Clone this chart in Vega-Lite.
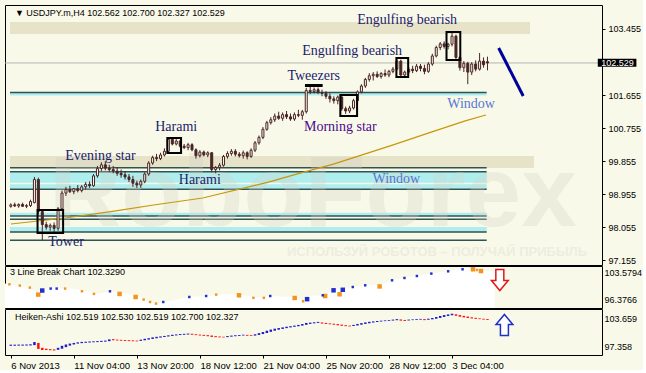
{
"$schema":"https://vega.github.io/schema/vega-lite/v6.json",
"background":"#f9f9e9",
"padding":{"left":4,"top":4,"right":0,"bottom":0},
"spacing":1,
"bounds":"flush",
"config":{"font":"Liberation Sans","view":{"stroke":"#000000","strokeWidth":1,"fill":"#f9f9e9"},"axis":{"labelFont":"Liberation Sans","labelFontSize":9,"labelColor":"#000000","tickColor":"#000000","domain":false,"grid":false}},
"resolve":{"scale":{"x":"independent","y":"independent"}},
"datasets":{
"candles":[
{"i":0,"o":98.62,"h":98.70,"l":98.58,"c":98.66},{"i":1,"o":98.66,"h":98.72,"l":98.60,"c":98.63},{"i":2,"o":98.63,"h":98.70,"l":98.58,"c":98.67},{"i":3,"o":98.67,"h":98.72,"l":98.60,"c":98.62},{"i":4,"o":98.62,"h":98.68,"l":98.57,"c":98.64},{"i":5,"o":98.64,"h":98.80,"l":98.60,"c":98.75},{"i":6,"o":98.72,"h":99.42,"l":98.70,"c":99.35},{"i":7,"o":99.35,"h":99.40,"l":98.40,"c":98.48},{"i":8,"o":98.48,"h":98.52,"l":97.70,"c":98.12},{"i":9,"o":98.12,"h":98.20,"l":97.98,"c":98.05},
{"i":10,"o":98.05,"h":98.15,"l":97.95,"c":98.10},{"i":11,"o":98.10,"h":98.18,"l":97.90,"c":98.02},{"i":12,"o":98.02,"h":98.60,"l":97.95,"c":98.55},{"i":13,"o":98.55,"h":99.05,"l":98.50,"c":98.98},{"i":14,"o":98.98,"h":99.15,"l":98.90,"c":99.08},{"i":15,"o":99.08,"h":99.18,"l":98.98,"c":99.02},{"i":16,"o":99.02,"h":99.12,"l":98.95,"c":99.10},{"i":17,"o":99.10,"h":99.20,"l":99.00,"c":99.05},{"i":18,"o":99.05,"h":99.20,"l":99.00,"c":99.15},{"i":19,"o":99.15,"h":99.28,"l":99.08,"c":99.22},
{"i":20,"o":99.22,"h":99.30,"l":99.12,"c":99.18},{"i":21,"o":99.18,"h":99.50,"l":99.15,"c":99.45},{"i":22,"o":99.45,"h":99.72,"l":99.40,"c":99.65},{"i":23,"o":99.65,"h":99.82,"l":99.58,"c":99.75},{"i":24,"o":99.75,"h":99.85,"l":99.60,"c":99.66},{"i":25,"o":99.66,"h":99.75,"l":99.55,"c":99.62},{"i":26,"o":99.62,"h":99.72,"l":99.52,"c":99.58},{"i":27,"o":99.58,"h":99.68,"l":99.45,"c":99.52},{"i":28,"o":99.52,"h":99.62,"l":99.40,"c":99.48},{"i":29,"o":99.48,"h":99.58,"l":99.35,"c":99.42},
{"i":30,"o":99.42,"h":99.50,"l":99.28,"c":99.35},{"i":31,"o":99.35,"h":99.45,"l":99.15,"c":99.25},{"i":32,"o":99.25,"h":99.32,"l":99.12,"c":99.20},{"i":33,"o":99.20,"h":99.35,"l":99.12,"c":99.30},{"i":34,"o":99.30,"h":99.55,"l":99.25,"c":99.50},{"i":35,"o":99.50,"h":99.85,"l":99.45,"c":99.80},{"i":36,"o":99.80,"h":100.00,"l":99.75,"c":99.95},{"i":37,"o":99.95,"h":100.05,"l":99.85,"c":99.92},{"i":38,"o":99.92,"h":100.08,"l":99.88,"c":100.02},{"i":39,"o":100.02,"h":100.20,"l":99.98,"c":100.12},
{"i":40,"o":100.12,"h":100.50,"l":100.10,"c":100.45},{"i":41,"o":100.45,"h":100.50,"l":100.28,"c":100.32},{"i":42,"o":100.32,"h":100.45,"l":100.28,"c":100.40},{"i":43,"o":100.40,"h":100.42,"l":100.22,"c":100.26},{"i":44,"o":100.26,"h":100.32,"l":100.18,"c":100.22},{"i":45,"o":100.22,"h":100.35,"l":100.15,"c":100.30},{"i":46,"o":100.30,"h":100.34,"l":100.12,"c":100.16},{"i":47,"o":100.16,"h":100.20,"l":99.92,"c":100.00},{"i":48,"o":100.00,"h":100.15,"l":99.95,"c":100.10},{"i":49,"o":100.10,"h":100.14,"l":99.98,"c":100.02},
{"i":50,"o":100.02,"h":100.12,"l":99.96,"c":100.08},{"i":51,"o":100.08,"h":100.10,"l":99.55,"c":99.62},{"i":52,"o":99.62,"h":99.72,"l":99.52,"c":99.68},{"i":53,"o":99.68,"h":99.80,"l":99.60,"c":99.74},{"i":54,"o":99.74,"h":100.02,"l":99.70,"c":99.98},{"i":55,"o":99.98,"h":100.12,"l":99.92,"c":100.06},{"i":56,"o":100.06,"h":100.18,"l":100.00,"c":100.12},{"i":57,"o":100.12,"h":100.18,"l":99.98,"c":100.04},{"i":58,"o":100.04,"h":100.10,"l":99.95,"c":100.00},{"i":59,"o":100.00,"h":100.14,"l":99.92,"c":100.08},
{"i":60,"o":100.08,"h":100.12,"l":99.90,"c":99.98},{"i":61,"o":99.98,"h":100.20,"l":99.94,"c":100.15},{"i":62,"o":100.15,"h":100.40,"l":100.10,"c":100.35},{"i":63,"o":100.35,"h":100.55,"l":100.30,"c":100.50},{"i":64,"o":100.50,"h":100.78,"l":100.45,"c":100.72},{"i":65,"o":100.72,"h":100.95,"l":100.68,"c":100.90},{"i":66,"o":100.90,"h":101.05,"l":100.85,"c":100.98},{"i":67,"o":100.98,"h":101.15,"l":100.92,"c":101.08},{"i":68,"o":101.08,"h":101.20,"l":100.98,"c":101.02},{"i":69,"o":101.02,"h":101.18,"l":100.95,"c":101.12},
{"i":70,"o":101.12,"h":101.22,"l":101.00,"c":101.06},{"i":71,"o":101.06,"h":101.15,"l":100.95,"c":101.00},{"i":72,"o":101.00,"h":101.18,"l":100.95,"c":101.12},{"i":73,"o":101.12,"h":101.25,"l":101.05,"c":101.10},{"i":74,"o":101.10,"h":101.25,"l":100.98,"c":101.20},{"i":75,"o":101.20,"h":101.85,"l":101.15,"c":101.78},{"i":76,"o":101.78,"h":101.88,"l":101.68,"c":101.75},{"i":77,"o":101.75,"h":101.86,"l":101.70,"c":101.80},{"i":78,"o":101.80,"h":101.86,"l":101.68,"c":101.72},{"i":79,"o":101.72,"h":101.80,"l":101.62,"c":101.70},
{"i":80,"o":101.70,"h":101.76,"l":101.55,"c":101.62},{"i":81,"o":101.62,"h":101.70,"l":101.45,"c":101.55},{"i":82,"o":101.55,"h":101.62,"l":101.42,"c":101.50},{"i":83,"o":101.50,"h":101.64,"l":101.40,"c":101.60},{"i":84,"o":101.60,"h":101.64,"l":101.22,"c":101.28},{"i":85,"o":101.28,"h":101.34,"l":101.14,"c":101.22},{"i":86,"o":101.22,"h":101.36,"l":101.16,"c":101.30},{"i":87,"o":101.30,"h":101.55,"l":101.26,"c":101.50},{"i":88,"o":101.50,"h":101.78,"l":101.45,"c":101.74},{"i":89,"o":101.74,"h":101.95,"l":101.70,"c":101.90},
{"i":90,"o":101.90,"h":102.12,"l":101.85,"c":102.08},{"i":91,"o":102.08,"h":102.25,"l":102.02,"c":102.18},{"i":92,"o":102.18,"h":102.28,"l":102.05,"c":102.22},{"i":93,"o":102.22,"h":102.30,"l":102.12,"c":102.16},{"i":94,"o":102.16,"h":102.28,"l":102.10,"c":102.24},{"i":95,"o":102.24,"h":102.35,"l":102.15,"c":102.20},{"i":96,"o":102.20,"h":102.34,"l":102.14,"c":102.30},{"i":97,"o":102.30,"h":102.42,"l":102.25,"c":102.36},{"i":98,"o":102.36,"h":102.64,"l":102.32,"c":102.58},{"i":99,"o":102.58,"h":102.62,"l":102.15,"c":102.20},
{"i":100,"o":102.20,"h":102.32,"l":102.12,"c":102.28},{"i":101,"o":102.28,"h":102.42,"l":102.22,"c":102.36},{"i":102,"o":102.36,"h":102.45,"l":102.25,"c":102.32},{"i":103,"o":102.32,"h":102.50,"l":102.28,"c":102.44},{"i":104,"o":102.44,"h":102.50,"l":102.30,"c":102.38},{"i":105,"o":102.38,"h":102.48,"l":102.22,"c":102.30},{"i":106,"o":102.30,"h":102.55,"l":102.26,"c":102.50},{"i":107,"o":102.50,"h":102.78,"l":102.45,"c":102.72},{"i":108,"o":102.72,"h":103.00,"l":102.68,"c":102.95},{"i":109,"o":102.95,"h":103.10,"l":102.88,"c":103.05},
{"i":110,"o":103.05,"h":103.12,"l":102.92,"c":102.98},{"i":111,"o":102.98,"h":103.08,"l":102.90,"c":103.04},{"i":112,"o":103.04,"h":103.38,"l":102.98,"c":103.26},{"i":113,"o":103.26,"h":103.30,"l":102.62,"c":102.68},{"i":114,"o":102.68,"h":102.72,"l":102.32,"c":102.40},{"i":115,"o":102.40,"h":102.58,"l":102.28,"c":102.52},{"i":116,"o":102.52,"h":102.56,"l":101.95,"c":102.28},{"i":117,"o":102.28,"h":102.55,"l":102.20,"c":102.50},{"i":118,"o":102.50,"h":102.60,"l":102.30,"c":102.36},{"i":119,"o":102.36,"h":102.80,"l":102.32,"c":102.58},
{"i":120,"o":102.58,"h":102.68,"l":102.40,"c":102.48},{"i":121,"o":102.562,"h":102.700,"l":102.327,"c":102.529}
],
"ma":[{"i":0.05,"v":98.137},{"i":13.78,"v":98.30},{"i":26.25,"v":98.49},{"i":36.24,"v":98.655},{"i":48.7,"v":98.846},{"i":65.4,"v":99.28},{"i":73.67,"v":99.53},{"i":81.9,"v":99.77},{"i":96.88,"v":100.29},{"i":106.9,"v":100.65},{"i":115.35,"v":100.95},{"i":120.6,"v":101.11}],
"zones":[
{"i":-0.2,"i2":131.8,"v":103.646,"v2":103.319,"kind":"shade"},
{"i":-0.2,"i2":132.8,"v":99.991,"v2":99.664,"kind":"shade"},
{"i":-0.2,"i2":120.8,"v":101.71,"v2":101.641,"kind":"gap"},
{"i":-0.2,"i2":120.8,"v":99.563,"v2":99.263,"kind":"gap"},
{"i":-0.2,"i2":120.8,"v":99.219,"v2":99.100,"kind":"gap"},
{"i":-0.2,"i2":120.8,"v":98.445,"v2":98.355,"kind":"gap"},
{"i":-0.2,"i2":120.8,"v":98.055,"v2":97.919,"kind":"gap"}
],
"levels":[{"v":101.723},{"v":99.672},{"v":99.563},{"v":99.083},{"v":98.355},{"v":98.265},{"v":97.919},{"v":97.692}],
"boxes":[
{"i":6.79,"i2":13.28,"v":98.519,"v2":97.891,"pattern":"Tower"},
{"i":39.73,"i2":43.22,"v":100.482,"v2":100.073,"pattern":"Harami"},
{"i":83.65,"i2":87.9,"v":101.655,"v2":101.082,"pattern":"Morning star"},
{"i":97.88,"i2":100.87,"v":102.664,"v2":102.146,"pattern":"Engulfing bearish"},
{"i":110.6,"i2":114.1,"v":103.373,"v2":102.61,"pattern":"Engulfing bearish"},
{"i":74.67,"i2":79.16,"v":101.955,"v2":101.873,"pattern":"Tweezers"}
],
"notes":[
{"i":100.6,"v":103.70,"text":"Engulfing bearish","kind":"p"},
{"i":86.65,"v":102.855,"text":"Engulfing bearish","kind":"p"},
{"i":76.9,"v":102.173,"text":"Tweezers","kind":"p"},
{"i":83.65,"v":100.782,"text":"Morning star","kind":"m"},
{"i":116.85,"v":101.41,"text":"Window","kind":"w"},
{"i":41.98,"v":100.782,"text":"Harami","kind":"p"},
{"i":22.76,"v":99.991,"text":"Evening star","kind":"p"},
{"i":47.97,"v":99.337,"text":"Harami","kind":"p"},
{"i":97.88,"v":99.364,"text":"Window","kind":"w"},
{"i":14.03,"v":97.646,"text":"Tower","kind":"p"}
],
"trend":[{"i":123.84,"v":102.937},{"i":130.07,"v":101.628}],
"bid":[{"v":102.529}],
"labels":[
{"text":"RoboForex","kind":"wm","i":76.7,"v":98.90},
{"text":"ИСПОЛЬЗУЙ РОБОТОВ – ПОЛУЧАЙ ПРИБЫЛЬ","kind":"slogan","i":108.2,"v":97.373},
{"text":"▼ USDJPY.m,H4  102.562 102.700 102.327 102.529","kind":"title","i":1.05,"v":103.878},
{"text":"3 Line Break Chart 102.3290","kind":"lb","i":1.05,"v":103.85},
{"text":"Heiken-Ashi 102.519 102.530 102.519 102.700 102.327","kind":"ha","i":1.05,"v":103.88}
],
"lb":[{"i":-0.2,"v":100.75},{"i":5,"v":99.84},{"i":7.9,"v":98.35},{"i":9.1,"v":99.42},{"i":16.4,"v":99.42},{"i":23.1,"v":98.0},{"i":26.2,"v":98.70},{"i":28.8,"v":98.3},{"i":32.9,"v":97.44},{"i":35.5,"v":95.84},{"i":38.6,"v":95.42},{"i":39.6,"v":95.84},{"i":45.8,"v":97.18},{"i":50,"v":97.44},{"i":54.1,"v":97.9},{"i":58.2,"v":97.82},{"i":62.8,"v":96.95},{"i":66,"v":97.44},{"i":71.6,"v":97.1},{"i":74.2,"v":96.03},{"i":75.8,"v":97.5},{"i":79.4,"v":97.63},{"i":82,"v":99.2},{"i":84.5,"v":99.42},{"i":87.1,"v":99.84},{"i":90.2,"v":100.30},{"i":93.3,"v":100.30},{"i":96.4,"v":101.63},{"i":99.5,"v":102.25},{"i":102.6,"v":102.78},{"i":106.2,"v":103.42},{"i":110.4,"v":104.03},{"i":114,"v":104.75},{"i":116.6,"v":104.75},{"i":119.1,"v":104.2},{"i":122,"v":104.2}],
"lbm":[
{"i":0.9,"v":100.56,"dir":"down","kind":"dash"},{"i":3.5,"v":100.22,"dir":"down","kind":"dash"},{"i":6.0,"v":99.68,"dir":"down","kind":"dash"},{"i":8.1,"v":97.82,"dir":"down","kind":"box"},{"i":9.1,"v":98.9,"dir":"up","kind":"box"},{"i":11.2,"v":99.42,"dir":"up","kind":"dash"},{"i":12.7,"v":99.42,"dir":"up","kind":"dash"},{"i":14.8,"v":99.42,"dir":"down","kind":"dash"},{"i":19.0,"v":98.70,"dir":"down","kind":"dash"},{"i":22.0,"v":98.0,"dir":"down","kind":"dash"},
{"i":26.0,"v":98.70,"dir":"up","kind":"dash"},{"i":28.4,"v":98.0,"dir":"down","kind":"box"},{"i":32.4,"v":97.18,"dir":"down","kind":"box"},{"i":34.4,"v":96.48,"dir":"down","kind":"dash"},{"i":36.0,"v":95.84,"dir":"down","kind":"dash"},{"i":37.5,"v":95.42,"dir":"down","kind":"dash"},{"i":39.3,"v":95.84,"dir":"up","kind":"dash"},{"i":45.8,"v":97.18,"dir":"up","kind":"dash"},{"i":50.0,"v":97.44,"dir":"up","kind":"dash"},{"i":52.5,"v":97.82,"dir":"down","kind":"dash"},
{"i":58.2,"v":97.63,"dir":"down","kind":"box"},{"i":61.8,"v":96.95,"dir":"down","kind":"dash"},{"i":64.4,"v":96.95,"dir":"down","kind":"dash"},{"i":66.0,"v":97.44,"dir":"up","kind":"dash"},{"i":72.1,"v":96.91,"dir":"down","kind":"box"},{"i":74.2,"v":96.03,"dir":"down","kind":"dash"},{"i":75.2,"v":96.6,"dir":"up","kind":"box"},{"i":79.1,"v":97.63,"dir":"up","kind":"dash"},{"i":79.7,"v":97.44,"dir":"down","kind":"box"},{"i":81.8,"v":98.96,"dir":"up","kind":"box"},
{"i":83.3,"v":97.9,"dir":"down","kind":"box"},{"i":84.1,"v":99.1,"dir":"up","kind":"box"},{"i":86.6,"v":99.84,"dir":"up","kind":"dash"},{"i":89.7,"v":100.30,"dir":"up","kind":"dash"},{"i":93.3,"v":100.0,"dir":"down","kind":"box"},{"i":96.4,"v":101.63,"dir":"up","kind":"dash"},{"i":99.5,"v":102.25,"dir":"up","kind":"dash"},{"i":102.6,"v":102.78,"dir":"up","kind":"dash"},{"i":106.2,"v":103.42,"dir":"up","kind":"dash"},{"i":110.4,"v":104.03,"dir":"up","kind":"dash"},
{"i":114.0,"v":104.57,"dir":"up","kind":"dash"},{"i":116.6,"v":104.57,"dir":"down","kind":"box"},{"i":117.6,"v":104.38,"dir":"down","kind":"dash"},{"i":118.6,"v":104.1,"dir":"down","kind":"box"}
],
"signals":[{"i":123.3,"v":101.7,"dir":"down","panel":"lb"},{"i":125.3,"v":102.08,"dir":"up","panel":"ha"}],
"ha":[
{"i":0,"o":97.40,"c":97.66},{"i":1,"o":97.42,"c":97.66},{"i":2,"o":97.44,"c":97.68},{"i":3,"o":97.44,"c":97.68},{"i":4,"o":97.46,"c":97.70},{"i":5,"o":97.48,"c":97.74},{"i":6,"o":97.55,"c":98.25},{"i":7,"o":98.05,"c":96.70},{"i":8,"o":96.95,"c":96.45},{"i":9,"o":96.75,"c":96.45},
{"i":10,"o":96.65,"c":96.40},{"i":11,"o":96.60,"c":96.35},{"i":12,"o":96.50,"c":96.95},{"i":13,"o":96.75,"c":97.40},{"i":14,"o":97.10,"c":97.70},{"i":15,"o":97.45,"c":97.90},{"i":16,"o":97.70,"c":98.05},{"i":17,"o":97.90,"c":98.18},{"i":18,"o":98.00,"c":98.28},{"i":19,"o":98.08,"c":98.32},
{"i":20,"o":98.14,"c":98.38},{"i":21,"o":98.20,"c":98.42},{"i":22,"o":98.24,"c":98.46},{"i":23,"o":98.28,"c":98.52},{"i":24,"o":98.34,"c":98.58},{"i":25,"o":98.45,"c":98.85},{"i":26,"o":98.90,"c":98.65},{"i":27,"o":98.80,"c":98.60},{"i":28,"o":98.75,"c":98.55},{"i":29,"o":98.70,"c":98.50},
{"i":30,"o":98.66,"c":98.46},{"i":31,"o":98.62,"c":98.42},{"i":32,"o":98.58,"c":98.40},{"i":33,"o":98.52,"c":98.78},{"i":34,"o":98.65,"c":98.98},{"i":35,"o":98.80,"c":99.12},{"i":36,"o":98.95,"c":99.30},{"i":37,"o":99.10,"c":99.42},{"i":38,"o":99.25,"c":99.52},{"i":39,"o":99.38,"c":99.62},
{"i":40,"o":99.50,"c":99.76},{"i":41,"o":99.62,"c":99.88},{"i":42,"o":99.74,"c":99.96},{"i":43,"o":99.82,"c":100.04},{"i":44,"o":99.88,"c":100.10},{"i":45,"o":99.94,"c":100.16},{"i":46,"o":100.12,"c":99.90},{"i":47,"o":100.00,"c":99.80},{"i":48,"o":99.92,"c":99.72},{"i":49,"o":99.86,"c":99.64},
{"i":50,"o":99.80,"c":99.56},{"i":51,"o":99.72,"c":99.40},{"i":52,"o":99.58,"c":99.34},{"i":53,"o":99.50,"c":99.30},{"i":54,"o":99.44,"c":99.28},{"i":55,"o":99.36,"c":99.60},{"i":56,"o":99.46,"c":99.70},{"i":57,"o":99.56,"c":99.78},{"i":58,"o":99.64,"c":99.84},{"i":59,"o":99.72,"c":99.90},
{"i":60,"o":99.86,"c":99.66},{"i":61,"o":99.80,"c":99.62},{"i":62,"o":99.70,"c":100.00},{"i":63,"o":99.85,"c":100.25},{"i":64,"o":100.05,"c":100.50},{"i":65,"o":100.28,"c":100.80},{"i":66,"o":100.55,"c":101.05},{"i":67,"o":100.80,"c":101.25},{"i":68,"o":101.02,"c":101.40},{"i":69,"o":101.20,"c":101.55},
{"i":70,"o":101.38,"c":101.70},{"i":71,"o":101.54,"c":101.82},{"i":72,"o":101.68,"c":101.95},{"i":73,"o":101.80,"c":102.10},{"i":74,"o":101.95,"c":102.30},{"i":75,"o":102.12,"c":102.55},{"i":76,"o":102.33,"c":102.62},{"i":77,"o":102.46,"c":102.70},{"i":78,"o":102.56,"c":102.78},{"i":79,"o":102.66,"c":102.40},
{"i":80,"o":102.55,"c":102.32},{"i":81,"o":102.45,"c":102.25},{"i":82,"o":102.38,"c":102.14},{"i":83,"o":102.29,"c":102.02},{"i":84,"o":102.17,"c":101.90},{"i":85,"o":102.04,"c":101.82},{"i":86,"o":101.95,"c":101.76},{"i":87,"o":101.86,"c":102.10},{"i":88,"o":101.98,"c":102.32},{"i":89,"o":102.15,"c":102.50},
{"i":90,"o":102.32,"c":102.66},{"i":91,"o":102.48,"c":102.80},{"i":92,"o":102.64,"c":102.90},{"i":93,"o":102.76,"c":102.98},{"i":94,"o":102.86,"c":103.06},{"i":95,"o":102.95,"c":103.12},{"i":96,"o":103.02,"c":103.20},{"i":97,"o":103.08,"c":103.30},{"i":98,"o":103.16,"c":103.40},{"i":99,"o":103.34,"c":103.06},
{"i":100,"o":103.22,"c":103.00},{"i":101,"o":103.10,"c":103.30},{"i":102,"o":103.18,"c":103.34},{"i":103,"o":103.22,"c":103.40},{"i":104,"o":103.28,"c":103.46},{"i":105,"o":103.42,"c":103.18},{"i":106,"o":103.26,"c":103.50},{"i":107,"o":103.36,"c":103.66},{"i":108,"o":103.50,"c":103.88},{"i":109,"o":103.68,"c":104.12},
{"i":110,"o":103.90,"c":104.32},{"i":111,"o":104.10,"c":104.46},{"i":112,"o":104.28,"c":104.62},{"i":113,"o":104.50,"c":104.15},{"i":114,"o":104.32,"c":103.95},{"i":115,"o":104.14,"c":103.80},{"i":116,"o":103.98,"c":103.66},{"i":117,"o":103.82,"c":103.56},{"i":118,"o":103.70,"c":103.46},{"i":119,"o":103.58,"c":103.40},
{"i":120,"o":103.50,"c":103.30},{"i":121,"o":103.42,"c":103.22}
]
},
"vconcat":[
{
"width":597,"height":260,
"layer":[
{"data":{"name":"zones"},"transform":[{"filter":"datum.kind=='shade'"}],"mark":{"type":"rect","color":"#e6e3c9","clip":true},
 "encoding":{"x":{"field":"i","type":"quantitative","scale":{"domain":[-0.2,148.8],"nice":false,"zero":false},"axis":null,"title":null},"x2":{"field":"i2"},
 "y":{"field":"v","type":"quantitative","scale":{"domain":[97.019,104.1095],"nice":false,"zero":false},"axis":{"orient":"right","values":[97.155,98.055,98.955,99.855,100.755,101.655,103.455],"format":".3f","tickSize":3,"labelPadding":3},"title":null},"y2":{"field":"v2"}}},
{"data":{"name":"zones"},"transform":[{"filter":"datum.kind=='gap'"}],"mark":{"type":"rect","color":"#afeeee","clip":true},
 "encoding":{"x":{"field":"i","type":"quantitative","axis":null,"title":null},"x2":{"field":"i2"},"y":{"field":"v","type":"quantitative","title":null},"y2":{"field":"v2"}}},
{"data":{"name":"levels"},"mark":{"type":"rule","color":"#2f5252","strokeWidth":1.5,"clip":true},
 "encoding":{"x":{"datum":-0.2,"type":"quantitative","axis":null,"title":null},"x2":{"datum":120.8},"y":{"field":"v","type":"quantitative","title":null}}},
{"data":{"name":"bid"},"mark":{"type":"rule","color":"#b4b4b4","strokeWidth":1,"clip":true},
 "encoding":{"y":{"field":"v","type":"quantitative","title":null}}},
{"data":{"name":"labels"},"transform":[{"filter":"datum.kind=='wm' || datum.kind=='slogan'"}],"mark":{"type":"text","font":"Liberation Sans","fontWeight":"bold","align":"center","baseline":"middle","color":"#d2d2c8","opacity":0.3,"clip":true},
 "encoding":{"x":{"field":"i","type":"quantitative","axis":null,"title":null},"y":{"field":"v","type":"quantitative","title":null},"text":{"field":"text"},
 "size":{"condition":{"test":"datum.kind=='wm'","value":100},"value":13}}},
{"data":{"name":"ma"},"mark":{"type":"line","color":"#c8960a","strokeWidth":1.2,"clip":true},
 "encoding":{"x":{"field":"i","type":"quantitative","axis":null,"title":null},"y":{"field":"v","type":"quantitative","title":null}}},
{"data":{"name":"candles"},"mark":{"type":"rule","color":"#4a2626","strokeWidth":1,"clip":true},
 "encoding":{"x":{"field":"i","type":"quantitative","axis":null,"title":null},"y":{"field":"l","type":"quantitative","title":null},"y2":{"field":"h"}}},
{"data":{"name":"candles"},"mark":{"type":"bar","size":2,"stroke":"#4a2626","strokeWidth":1,"clip":true},
 "encoding":{"x":{"field":"i","type":"quantitative","axis":null,"title":null},"y":{"field":"o","type":"quantitative","title":null},"y2":{"field":"c"},
 "fill":{"condition":{"test":"datum.c >= datum.o","value":"#f9f9e9"},"value":"#4a2626"}}},
{"data":{"name":"boxes"},"transform":[{"filter":"datum.pattern!='Tweezers'"}],"mark":{"type":"rect","fill":"transparent","stroke":"#000000","strokeWidth":2,"clip":true},
 "encoding":{"x":{"field":"i","type":"quantitative","axis":null,"title":null},"x2":{"field":"i2"},"y":{"field":"v","type":"quantitative","title":null},"y2":{"field":"v2"}}},
{"data":{"name":"boxes"},"transform":[{"filter":"datum.pattern=='Tweezers'"}],"mark":{"type":"rect","color":"#000000","clip":true},
 "encoding":{"x":{"field":"i","type":"quantitative","axis":null,"title":null},"x2":{"field":"i2"},"y":{"field":"v","type":"quantitative","title":null},"y2":{"field":"v2"}}},
{"data":{"name":"notes"},"mark":{"type":"text","font":"Liberation Serif","fontSize":14,"align":"center","baseline":"middle"},
 "encoding":{"x":{"field":"i","type":"quantitative","axis":null,"title":null},"y":{"field":"v","type":"quantitative","title":null},"text":{"field":"text"},
 "color":{"condition":[{"test":"datum.kind=='m'","value":"#4b0a8c"},{"test":"datum.kind=='w'","value":"#5578d2"}],"value":"#1c1c6b"}}},
{"data":{"name":"trend"},"mark":{"type":"line","color":"#00009c","strokeWidth":3,"clip":false},
 "encoding":{"x":{"field":"i","type":"quantitative","axis":null,"title":null},"y":{"field":"v","type":"quantitative","title":null}}},
{"data":{"name":"labels"},"transform":[{"filter":"datum.kind=='title'"}],"mark":{"type":"text","font":"Liberation Sans","fontSize":9,"align":"left","baseline":"middle","color":"#000000"},
 "encoding":{"x":{"field":"i","type":"quantitative","axis":null,"title":null},"y":{"field":"v","type":"quantitative","title":null},"text":{"field":"text"}}},
{"data":{"name":"bid"},"mark":{"type":"rect","color":"#000000","clip":false},
 "encoding":{"x":{"datum":149.0,"type":"quantitative","axis":null,"title":null},"x2":{"datum":158.8},"y":{"datum":102.645,"type":"quantitative","title":null},"y2":{"datum":102.427}}},
{"data":{"name":"bid"},"mark":{"type":"text","font":"Liberation Sans","fontSize":9,"align":"left","baseline":"middle","color":"#ffffff","clip":false},
 "encoding":{"x":{"datum":149.9,"type":"quantitative","axis":null,"title":null},"y":{"field":"v","type":"quantitative","title":null},"text":{"field":"v","type":"quantitative","format":".3f"}}}
]
},
{
"width":597,"height":42,
"layer":[
{"data":{"name":"lb"},"mark":{"type":"area","color":"#ffffff","clip":true},
 "encoding":{"x":{"field":"i","type":"quantitative","scale":{"domain":[-0.2,148.8],"nice":false,"zero":false},"axis":null,"title":null},
 "y":{"field":"v","type":"quantitative","scale":{"domain":[94.241,105.447],"nice":false,"zero":false},"axis":{"orient":"right","values":[96.3766,103.5794],"format":".4f","tickSize":0,"labelPadding":2},"title":null},"y2":{"datum":94.241}}},
{"data":{"name":"lbm"},"transform":[{"filter":"datum.kind=='box'"}],"mark":{"type":"point","shape":"square","filled":true,"size":20,"opacity":1,"clip":true},
 "encoding":{"x":{"field":"i","type":"quantitative","axis":null,"title":null},"y":{"field":"v","type":"quantitative","title":null},
 "color":{"condition":{"test":"datum.dir=='up'","value":"#2030d0"},"value":"#f0961e"}}},
{"data":{"name":"lbm"},"transform":[{"filter":"datum.kind=='dash'"}],"mark":{"type":"point","shape":"square","filled":true,"size":6,"opacity":1,"clip":true},
 "encoding":{"x":{"field":"i","type":"quantitative","axis":null,"title":null},"y":{"field":"v","type":"quantitative","title":null},
 "color":{"condition":{"test":"datum.dir=='up'","value":"#2030d0"},"value":"#f0961e"}}},
{"data":{"name":"labels"},"transform":[{"filter":"datum.kind=='lb'"}],"mark":{"type":"text","font":"Liberation Sans","fontSize":9,"align":"left","baseline":"middle","color":"#000000"},
 "encoding":{"x":{"field":"i","type":"quantitative","axis":null,"title":null},"y":{"field":"v","type":"quantitative","title":null},"text":{"field":"text"}}},
{"data":{"name":"signals"},"transform":[{"filter":"datum.panel=='lb'"}],"mark":{"type":"point","shape":"M-0.38,-1L0.38,-1L0.38,0.05L0.8,0.05L0,1L-0.8,0.05L-0.38,0.05Z","size":441,"filled":true,"fill":"#ffffff","stroke":"#e01818","strokeWidth":1.5,"opacity":1},
 "encoding":{"x":{"field":"i","type":"quantitative","axis":null,"title":null},"y":{"field":"v","type":"quantitative","title":null}}}
]
},
{
"width":597,"height":46,
"layer":[
{"data":{"name":"ha"},"mark":{"type":"bar","size":2.5,"clip":true},
 "encoding":{"x":{"field":"i","type":"quantitative","scale":{"domain":[-0.2,148.8],"nice":false,"zero":false},
 "axis":{"orient":"bottom","values":[0,16,32,48,64,80,96,112],"labelExpr":"['6 Nov 2013','11 Nov 04:00','13 Nov 20:00','18 Nov 12:00','21 Nov 04:00','25 Nov 20:00','28 Nov 12:00','3 Dec 04:00'][round(datum.value/16)]","labelAlign":"left","labelFontSize":9.5,"tickSize":3,"labelPadding":2,"labelFlush":false,"labelOverlap":false,"labelBound":false},"title":null},
 "y":{"field":"o","type":"quantitative","scale":{"domain":[95.334,105.684],"nice":false,"zero":false},"axis":{"orient":"right","values":[97.358,103.659],"format":".3f","tickSize":0,"labelPadding":2},"title":null},"y2":{"field":"c"},
 "color":{"condition":{"test":"datum.c >= datum.o","value":"#1c1cc8"},"value":"#ff1010"}}},
{"data":{"name":"labels"},"transform":[{"filter":"datum.kind=='ha'"}],"mark":{"type":"text","font":"Liberation Sans","fontSize":9,"align":"left","baseline":"middle","color":"#000000"},
 "encoding":{"x":{"field":"i","type":"quantitative","title":null},"y":{"field":"v","type":"quantitative","title":null},"text":{"field":"text"}}},
{"data":{"name":"signals"},"transform":[{"filter":"datum.panel=='ha'"}],"mark":{"type":"point","shape":"M-0.38,1L0.38,1L0.38,-0.05L0.8,-0.05L0,-1L-0.8,-0.05L-0.38,-0.05Z","size":441,"filled":true,"fill":"#ffffff","stroke":"#2030c8","strokeWidth":1.5,"opacity":1},
 "encoding":{"x":{"field":"i","type":"quantitative","title":null},"y":{"field":"v","type":"quantitative","title":null}}}
]
}
]
}
